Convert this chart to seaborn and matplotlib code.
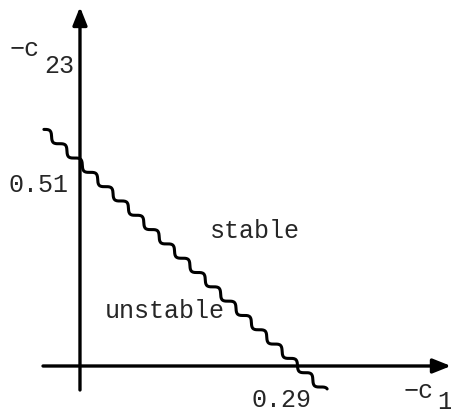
#---IMPORT SECTION---
import numpy as np
import pandas as pd
import matplotlib
matplotlib.use("Agg")
import matplotlib.pyplot as plt
import seaborn as sns
from matplotlib.patheffects import AbstractPathEffect
from matplotlib.path import Path
from matplotlib.transforms import IdentityTransform
#---END OF IMPORT SECTION---

#Stability boundary: intercepts on the two axes
x_intercept = 0.29   # -c1
y_intercept = 0.51   # -c23
boundary_x = [-0.048, 0.326]
region_labels = ["stable", "unstable"]
region_pos = [(0.173, 0.322), (0.033, 0.121)]

#Wavy decoration for the boundary line (drawn in display space)
class Wavy(AbstractPathEffect):
    def __init__(self, period=21.0, amp=3.2):
        super().__init__()
        self.period = period
        self.amp = amp

    def draw_path(self, renderer, gc, tpath, affine, rgbFace=None):
        v = affine.transform(tpath.vertices)
        p0, p1 = v[0], v[-1]
        d = p1 - p0
        L = np.hypot(*d)
        u = d / L
        n = np.array([-u[1], u[0]])
        s = np.linspace(0, L, 600)
        w = self.amp * np.sin(2 * np.pi * s / self.period)
        pts = p0 + np.outer(s, u) + np.outer(w, n)
        renderer.draw_path(gc, Path(pts), IdentityTransform(), rgbFace)

sns.set_style("white")
plt.rcParams["font.family"] = ["Liberation Mono", "DejaVu Sans Mono"]

fig = plt.figure(figsize=(4.52, 4.13), dpi=100)
ax = fig.add_axes([0, 0, 1, 1])
ax.set_xlim(-0.1064, 0.4949)
ax.set_ylim(-0.1181, 0.9196)
ax.axis("off")

#Boundary line
df = pd.DataFrame({"x": boundary_x})
df["y"] = y_intercept * (1 - df["x"] / x_intercept)
sns.lineplot(data=df, x="x", y="y", ax=ax, color="black", linewidth=2.2)
ax.lines[-1].set_path_effects([Wavy()])

#Axes with arrows
arrow = dict(arrowstyle="-|>,head_length=0.4,head_width=0.16", color="black",
             lw=2.4, mutation_scale=27, shrinkA=0, shrinkB=0)
ax.annotate("", xy=(0.4935, 0), xytext=(-0.0492, 0), arrowprops=arrow)
ax.annotate("", xy=(0, 0.902), xytext=(0, -0.0603), arrowprops=arrow)

fs = 18
#Axis labels
fig.text(10 / 452, 1 - 56 / 413, "\u2212c", fontsize=fs, va="baseline")
fig.text(44 / 452, 1 - 73 / 413, "23", fontsize=fs, va="baseline")
fig.text(404 / 452, 1 - 398 / 413, "\u2212c", fontsize=fs, va="baseline")
fig.text(437 / 452, 1 - 409 / 413, "1", fontsize=fs, va="baseline")

#Intercept values
ax.text(-0.015, y_intercept - 0.073, f"{y_intercept:.2f}", fontsize=fs, ha="right", va="baseline")
ax.text(0.2687, -0.103, f"{x_intercept:.2f}", fontsize=fs, ha="center", va="baseline")

#Region labels
for lab, (x, y) in zip(region_labels, region_pos):
    ax.text(x, y, lab, fontsize=fs, ha="left", va="baseline")

plt.savefig("out.png", dpi=100)
